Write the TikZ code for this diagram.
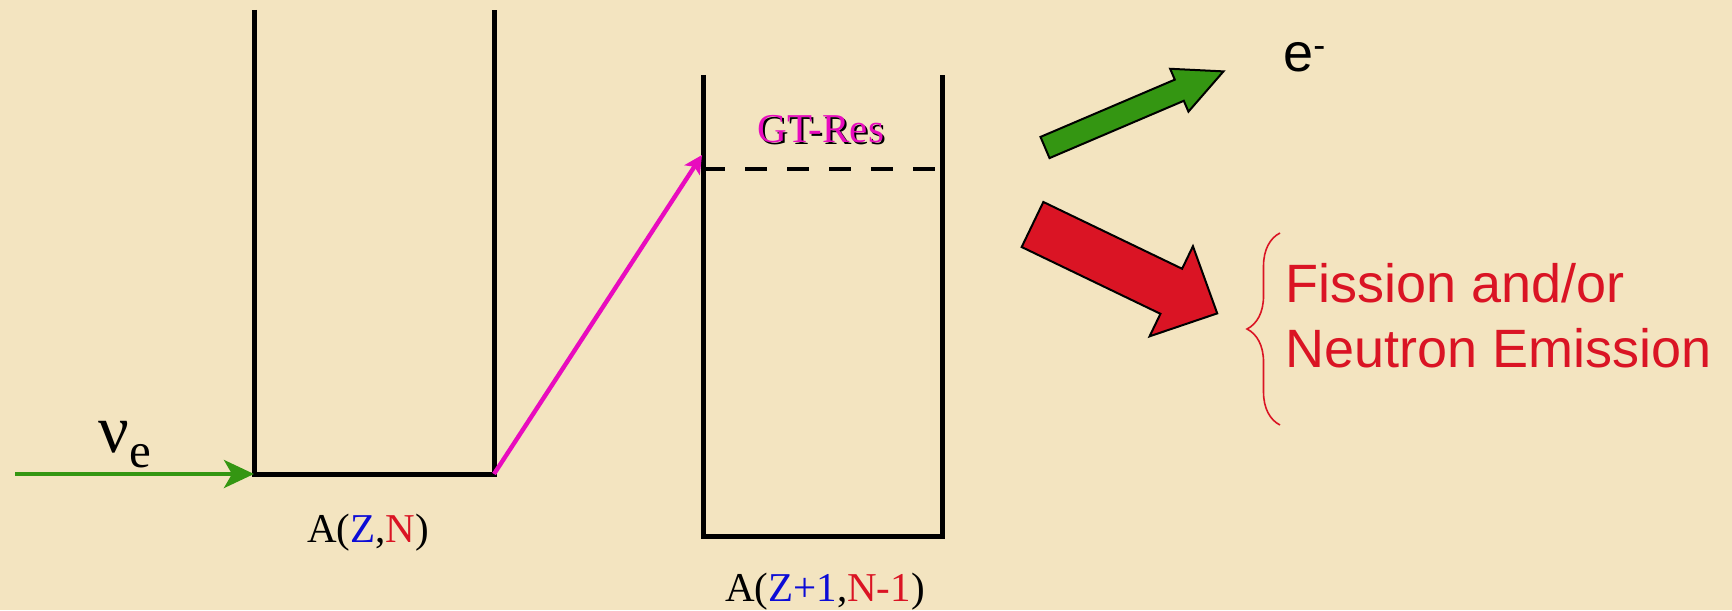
\documentclass[tikz,border=0pt]{standalone}
\usepackage{fontspec}
\setmainfont{Liberation Serif}
\setsansfont{Liberation Sans}
\usetikzlibrary{arrows.meta,positioning,decorations.pathreplacing}

\definecolor{parch}{RGB}{243,228,192}
\definecolor{nugreen}{RGB}{52,150,18}
\definecolor{fisred}{RGB}{218,20,36}
\definecolor{gtmag}{RGB}{232,12,190}
\definecolor{zblue}{RGB}{12,12,214}

\begin{document}
\begin{tikzpicture}[
  x=0.5pt, y=-0.5pt,
  wall/.style={line width=2.5pt, black},
  level/.style={line width=2pt, black, dash pattern=on 11pt off 10pt},
  nuarr/.style={-{Stealth[length=15pt, width=14pt, inset=4pt]}, line width=2pt, nugreen},
  gtarr/.style={-{Stealth[length=9pt, width=9pt, inset=2pt]}, line width=2.2pt, gtmag},
  nuc/.style={font=\fontsize{20.5}{24}\selectfont, inner sep=0pt, anchor=base},
  big/.style={font=\sffamily\fontsize{27}{32.5}\selectfont, inner sep=0pt},
  blockarr/.style={draw=black, line width=1pt, line join=miter}
]
\fill[parch] (0,0) rectangle (1732,610);
\useasboundingbox (0,0) rectangle (1732,610);

% the two wells
\coordinate (w1tl) at (254,10);  \coordinate (w1bl) at (254,474);
\coordinate (w1br) at (494,474); \coordinate (w1tr) at (494,10);
\coordinate (w2tl) at (703,75);  \coordinate (w2bl) at (703,536);
\coordinate (w2br) at (942,536); \coordinate (w2tr) at (942,75);
\draw[wall] (w1tl) -- (w1bl) -- (w1br) -- (w1tr);
\draw[wall] (w2tl) -- (w2bl) -- (w2br) -- (w2tr);

% resonance level
\coordinate (resl) at (703,169); \coordinate (resr) at (942,169);
\draw[level] (resl) -- (resr);
\node[nuc, black] at (823,144) {GT-Res};
\node[nuc, gtmag] (gt) at (821,142) {GT-Res};

\node[nuc] (azn) at (368,542) {A(\textcolor{zblue}{Z},\textcolor{fisred}{N})};
\node[nuc] (azn1) at (825,601) {A(\textcolor{zblue}{Z+1},\textcolor{fisred}{N-1})};

% incoming neutrino
\coordinate (nuin) at (15,474);
\node[inner sep=0pt, anchor=base west, font=\fontsize{34}{34}\selectfont] (nu) at (98,452)
  {ν\raisebox{-7.5pt}{\fontsize{24.5}{24.5}\selectfont e}};
\draw[nuarr] (nuin) -- (w1bl);

% excitation
\coordinate (gthit) at (702,155);
\draw[gtarr] (w1br) -- (gthit);

% outgoing electron
\begin{scope}[shift={(1045,147.5)}, rotate=23.1]
  \draw[blockarr, fill=nugreen] (0,-11.5) -- (146,-11.5) -- (146,-23.3) -- (194,0)
    -- (146,23.3) -- (146,11.5) -- (0,11.5) -- cycle;
\end{scope}
\node[big, anchor=base west] (el) at (1283,72)
  {e\raisebox{7pt}{\fontsize{18}{18}\selectfont -}};

% decay channels
\begin{scope}[shift={(1032.5,224.5)}, rotate=-25.7]
  \draw[blockarr, fill=fisred] (0,-25) -- (154,-25) -- (154,-50) -- (205,0)
    -- (154,50) -- (154,25) -- (0,25) -- cycle;
\end{scope}
\coordinate (brbot) at (1280,425); \coordinate (brtop) at (1280,233);
\draw[fisred, line width=0.8pt, decorate, decoration={brace, amplitude=16.5pt}]
  (brbot) -- (brtop);
\node[big, fisred, align=left, anchor=north west] (fis) at (1285,263)
  {Fission and/or\\Neutron Emission};
\end{tikzpicture}
\end{document}
